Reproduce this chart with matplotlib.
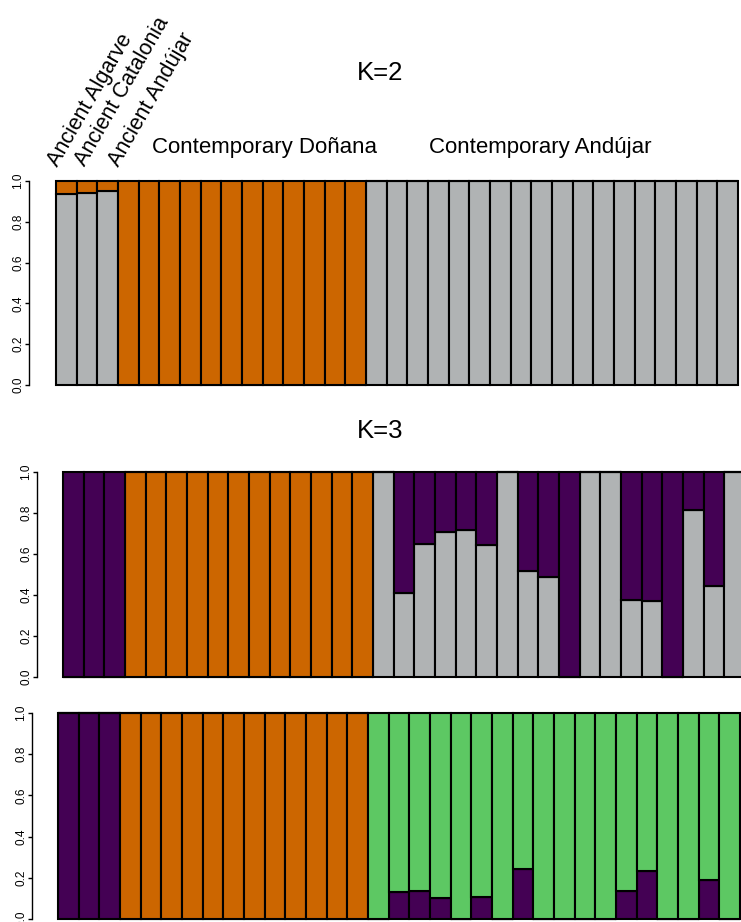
import numpy as np
import matplotlib.pyplot as plt

plt.rcParams['font.family'] = ['Liberation Sans', 'DejaVu Sans']

ORANGE = '#CC6600'
GRAY = '#B0B3B4'
PURPLE = '#440154'
GREEN = '#5DC863'

groups = ['Ancient Algarve', 'Ancient Catalonia', 'Ancient Andújar',
          'Contemporary Doñana', 'Contemporary Andújar']
n_ancient, n_donana, n_andujar = 3, 12, 18

# K=2 ancestry proportions (gray cluster at the bottom, orange on top)
k2_gray = [0.935, 0.943, 0.95] + [0.0] * n_donana + [1.0] * n_andujar
k2_orange = [0.065, 0.057, 0.05] + [1.0] * n_donana + [0.0] * n_andujar

# K=3 ancestry proportions (gray, orange, purple from bottom up)
k3_gray = [0.0] * n_ancient + [0.0] * n_donana + \
    [1.0, 0.41, 0.65, 0.706, 0.717, 0.646, 1.0, 0.515, 0.49,
     0.0, 1.0, 1.0, 0.374, 0.372, 0.0, 0.817, 0.442, 1.0]
k3_orange = [0.0] * n_ancient + [1.0] * n_donana + [0.0] * n_andujar
k3_purple = [1.0] * n_ancient + [0.0] * n_donana + \
    [0.0, 0.59, 0.35, 0.294, 0.283, 0.354, 0.0, 0.485, 0.51,
     1.0, 0.0, 0.0, 0.626, 0.628, 1.0, 0.183, 0.558, 0.0]

# third panel (purple, orange, green from bottom up)
k4_purple = [1.0] * n_ancient + [0.0] * n_donana + \
    [0.0, 0.131, 0.137, 0.103, 0.0, 0.108, 0.0, 0.243, 0.0,
     0.0, 0.0, 0.0, 0.134, 0.231, 0.0, 0.0, 0.191, 0.0]
k4_orange = [0.0] * n_ancient + [1.0] * n_donana + [0.0] * n_andujar
k4_green = [0.0] * n_ancient + [0.0] * n_donana + \
    [1.0, 0.869, 0.863, 0.897, 1.0, 0.892, 1.0, 0.757, 1.0,
     1.0, 1.0, 1.0, 0.866, 0.769, 1.0, 1.0, 0.809, 1.0]

yticks = [0.0, 0.2, 0.4, 0.6, 0.8, 1.0]

W, H = 741, 922
fig = plt.figure(figsize=(W / 100, H / 100), dpi=100)


def px_axes(x0, y_top, y_bot, width):
    return fig.add_axes([x0 / W, 1 - y_bot / H, width / W, (y_bot - y_top) / H])


def structure_plot(ax, layers, spine_gap):
    n = len(layers[0][0])
    x = np.arange(n)
    bottom = np.zeros(n)
    for vals, col in layers:
        vals = np.array(vals)
        ax.bar(x, vals, width=1.0, bottom=bottom, align='edge', color=col,
               edgecolor='black', linewidth=1.5, clip_on=False)
        bottom += vals
    ax.set_xlim(0, n)
    ax.set_ylim(0, 1)
    for s in ['top', 'right', 'bottom']:
        ax.spines[s].set_visible(False)
    ax.spines['left'].set_position(('outward', spine_gap * 0.72))
    ax.spines['left'].set_bounds(0, 1)
    ax.spines['left'].set_linewidth(1.0)
    ax.set_xticks([])
    ax.set_yticks(yticks)
    ax.set_yticklabels([f'{t:.1f}' for t in yticks], rotation=90,
                       va='center', fontsize=8.5)
    ax.tick_params(axis='y', length=3, width=1.0, pad=0.5)


bar_w = 682
ax1 = px_axes(56, 181, 385, bar_w)
structure_plot(ax1, [(k2_gray, GRAY), (k2_orange, ORANGE)], 27)

ax2 = px_axes(63, 472, 677, bar_w)
structure_plot(ax2, [(k3_gray, GRAY), (k3_orange, ORANGE), (k3_purple, PURPLE)], 26)

ax3 = px_axes(58, 713, 919, bar_w)
structure_plot(ax3, [(k4_purple, PURPLE), (k4_orange, ORANGE), (k4_green, GREEN)], 26)

# titles and group names
fig.text(380 / W, 1 - 73 / H, 'K=2', ha='center', va='center', fontsize=18.5)
fig.text(380 / W, 1 - 431 / H, 'K=3', ha='center', va='center', fontsize=18.5)

fig.text(264 / W, 1 - 148 / H, groups[3], ha='center', va='center', fontsize=16)
fig.text(540 / W, 1 - 148 / H, groups[4], ha='center', va='center', fontsize=16)

for name, xp in zip(groups[:3], [58, 85, 119]):
    fig.text(xp / W, 1 - 167 / H, name, rotation=60, rotation_mode='anchor',
             ha='left', va='baseline', fontsize=15.5)

fig.savefig('out.png', dpi=100)
